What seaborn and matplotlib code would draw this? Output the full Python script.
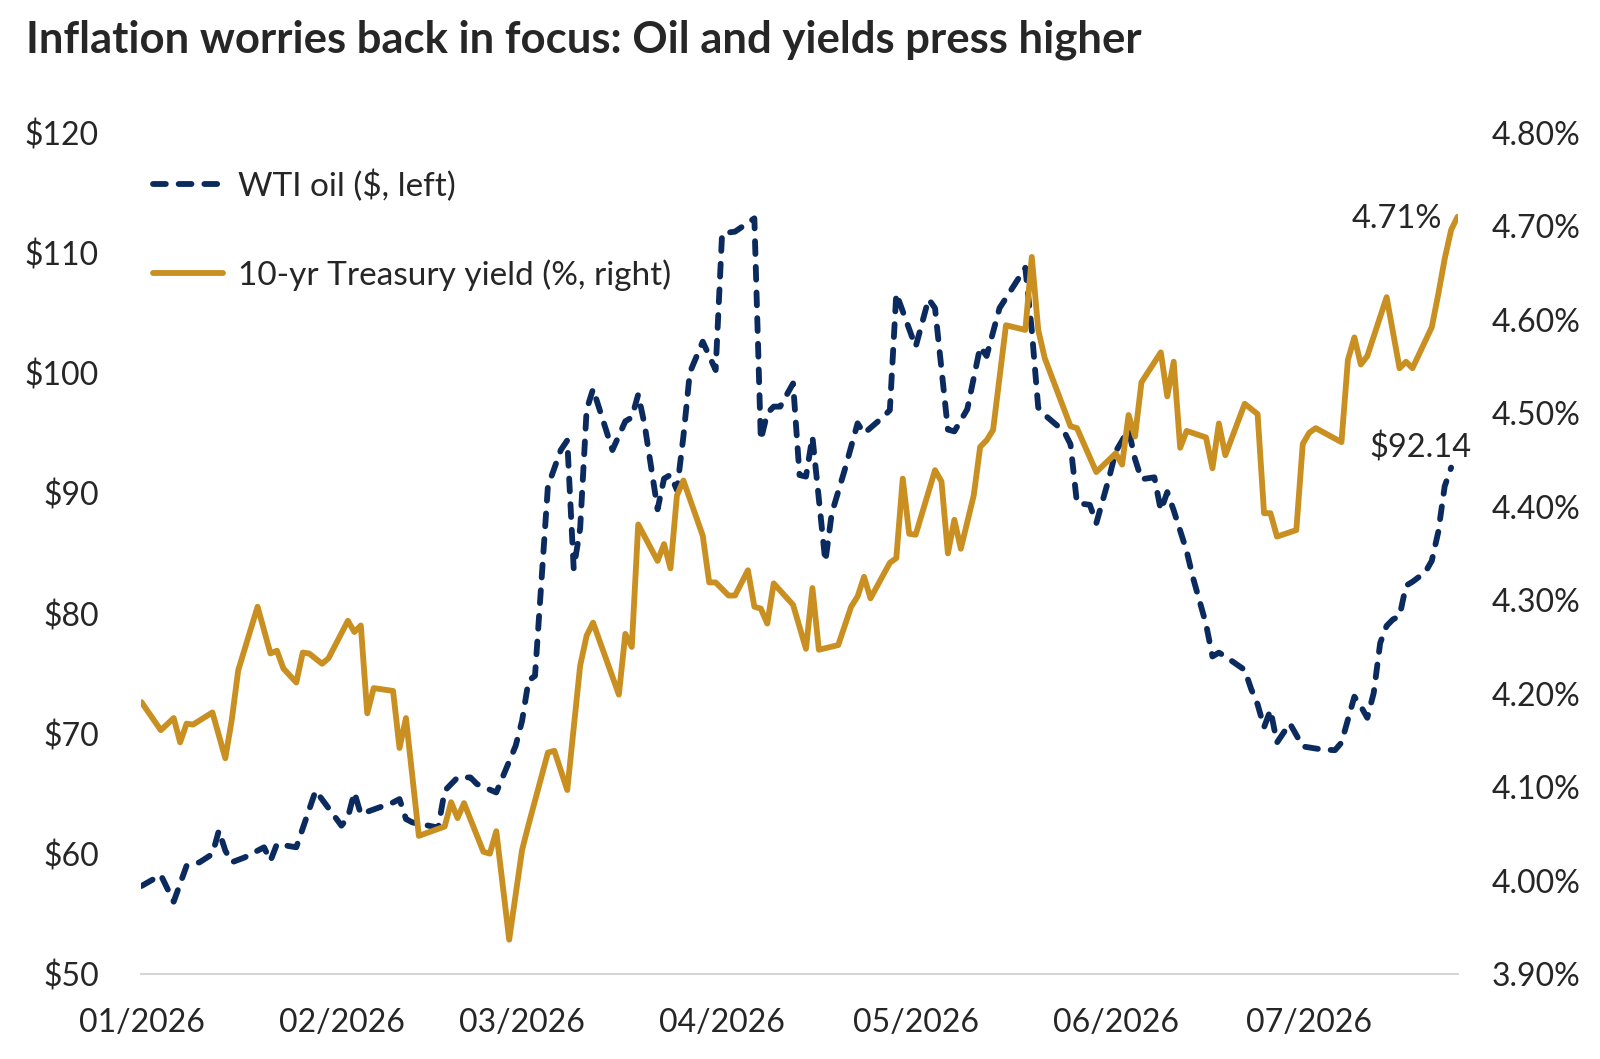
import matplotlib
matplotlib.use("Agg")
import matplotlib.pyplot as plt
import matplotlib.dates as mdates
from matplotlib.lines import Line2D
from matplotlib.ticker import FuncFormatter, MultipleLocator
import seaborn as sns
import pandas as pd

# ---------------- data ----------------
YEAR = "2026"
oil_dates = ["01-01", "01-04", "01-06", "01-08", "01-10", "01-12", "01-13", "01-14", "01-15", "01-17",
             "01-20", "01-21", "01-22", "01-25", "01-28", "02-01", "02-02", "02-03", "02-04", "02-09",
             "02-10", "02-11", "02-12", "02-16", "02-17", "02-19", "02-21", "02-22", "02-25", "02-28",
             "03-01", "03-02", "03-03", "03-05", "03-07", "03-08", "03-09", "03-10", "03-11", "03-12",
             "03-15", "03-17", "03-18", "03-19", "03-20", "03-22", "03-23", "03-24", "03-25", "03-26",
             "03-27", "03-29", "03-31", "04-01", "04-03", "04-06", "04-07", "04-08", "04-09", "04-10",
             "04-12", "04-13", "04-14", "04-15", "04-17", "04-18", "04-20", "04-22", "04-23", "04-26",
             "04-27", "04-28", "05-01", "05-03", "05-04", "05-06", "05-07", "05-09", "05-11", "05-12",
             "05-14", "05-18", "05-19", "05-20", "05-21", "05-24", "05-25", "05-26", "05-28", "05-29",
             "05-31", "06-01", "06-03", "06-04", "06-05", "06-07", "06-08", "06-09", "06-10", "06-12",
             "06-13", "06-14", "06-15", "06-16", "06-17", "06-18", "06-21", "06-22", "06-23", "06-24",
             "06-25", "06-26", "06-27", "06-28", "06-30", "07-03", "07-05", "07-06", "07-08", "07-09",
             "07-10", "07-11", "07-12", "07-13", "07-14", "07-15", "07-16", "07-17", "07-19", "07-20",
             "07-21", "07-22", "07-23"]
oil_values = [57.34, 58.26, 56.04, 59.03, 59.31, 60.00, 61.95, 60.29, 59.31, 59.72,
              60.56, 59.44, 60.83, 60.56, 65.27, 62.36, 63.05, 65.13, 63.32, 64.29,
              64.57, 62.91, 62.63, 62.20, 65.26, 66.37, 66.37, 65.82, 65.12, 69.00,
              71.08, 74.42, 74.82, 90.58, 93.60, 94.40, 83.73, 87.08, 96.94, 98.68,
              93.60, 95.99, 96.31, 98.22, 95.67, 88.67, 91.22, 91.54, 90.27, 94.72,
              100.05, 102.61, 100.25, 111.62, 111.76, 112.87, 94.43, 96.66, 97.21, 97.21,
              99.14, 91.52, 91.39, 94.71, 84.32, 88.34, 91.94, 95.82, 94.98, 96.37,
              96.92, 106.62, 102.18, 106.16, 105.40, 95.30, 95.15, 96.99, 102.18, 101.42,
              105.40, 108.76, 103.56, 97.13, 96.52, 95.15, 94.08, 89.19, 89.04, 87.51,
              91.33, 93.47, 95.30, 92.85, 91.17, 91.33, 88.58, 90.10, 88.58, 85.20,
              82.96, 81.04, 79.14, 76.43, 76.75, 76.43, 75.31, 73.73, 72.45, 70.54,
              71.98, 69.27, 70.06, 70.86, 68.95, 68.69, 68.64, 69.27, 73.09, 72.29,
              71.33, 73.40, 77.55, 78.98, 79.52, 79.78, 82.32, 82.64, 83.44, 84.39,
              86.78, 90.59, 92.14]

yield_dates = ["01-01", "01-04", "01-06", "01-07", "01-08", "01-09", "01-12", "01-14", "01-15", "01-16",
               "01-19", "01-21", "01-22", "01-23", "01-25", "01-26", "01-27", "01-29", "01-30", "02-02",
               "02-03", "02-04", "02-05", "02-06", "02-09", "02-10", "02-11", "02-13", "02-17", "02-18",
               "02-19", "02-20", "02-23", "02-24", "02-25", "02-27", "03-01", "03-02", "03-05", "03-06",
               "03-08", "03-10", "03-11", "03-12", "03-16", "03-17", "03-18", "03-19", "03-22", "03-23",
               "03-24", "03-25", "03-26", "03-29", "03-30", "03-31", "04-02", "04-03", "04-05", "04-06",
               "04-07", "04-08", "04-09", "04-12", "04-14", "04-15", "04-16", "04-19", "04-21", "04-22",
               "04-23", "04-24", "04-27", "04-28", "04-29", "04-30", "05-01", "05-04", "05-05", "05-06",
               "05-07", "05-08", "05-10", "05-11", "05-12", "05-13", "05-15", "05-18", "05-19", "05-20",
               "05-21", "05-25", "05-26", "05-29", "06-01", "06-02", "06-03", "06-04", "06-05", "06-08",
               "06-09", "06-10", "06-11", "06-12", "06-15", "06-16", "06-17", "06-18", "06-21", "06-23",
               "06-24", "06-25", "06-26", "06-29", "06-30", "07-01", "07-02", "07-06", "07-07", "07-08",
               "07-09", "07-10", "07-13", "07-15", "07-16", "07-17", "07-20", "07-21", "07-22", "07-23",
               "07-24"]
yield_values = [4.191, 4.161, 4.174, 4.148, 4.168, 4.167, 4.180, 4.131, 4.172, 4.225,
                4.293, 4.243, 4.246, 4.227, 4.212, 4.244, 4.243, 4.232, 4.238, 4.278,
                4.266, 4.273, 4.179, 4.206, 4.203, 4.142, 4.174, 4.048, 4.058, 4.084,
                4.067, 4.083, 4.031, 4.029, 4.053, 3.937, 4.033, 4.060, 4.137, 4.139,
                4.097, 4.230, 4.262, 4.276, 4.199, 4.264, 4.250, 4.381, 4.342, 4.360,
                4.334, 4.412, 4.428, 4.369, 4.319, 4.319, 4.305, 4.305, 4.332, 4.293,
                4.291, 4.275, 4.318, 4.295, 4.248, 4.313, 4.247, 4.252, 4.293, 4.304,
                4.325, 4.302, 4.340, 4.345, 4.430, 4.371, 4.370, 4.439, 4.427, 4.350,
                4.386, 4.355, 4.412, 4.464, 4.471, 4.482, 4.594, 4.589, 4.667, 4.589,
                4.559, 4.486, 4.484, 4.437, 4.457, 4.445, 4.498, 4.475, 4.533, 4.565,
                4.518, 4.555, 4.463, 4.481, 4.474, 4.441, 4.489, 4.455, 4.510, 4.499,
                4.393, 4.393, 4.368, 4.375, 4.467, 4.479, 4.484, 4.469, 4.557, 4.581,
                4.552, 4.561, 4.624, 4.548, 4.555, 4.548, 4.592, 4.627, 4.665, 4.696,
                4.710]

title = "Inflation worries back in focus: Oil and yields press higher"
oil_label = "WTI oil ($, left)"
yield_label = "10-yr Treasury yield (%, right)"
oil_end_label = "$92.14"
yield_end_label = "4.71%"
x_start, x_end = "2026-01-01", "2026-07-24"

# ---------------- style ----------------
NAVY = "#0B2B5E"
GOLD = "#C98F21"
GRID_GREY = "#D4D4D4"
LW = 4.2
DASH = (2.2, 2.2)

sns.set_style("white")
plt.rcParams["font.family"] = ["Lato", "DejaVu Sans"]
FS = 23

oil_df = pd.DataFrame({"date": pd.to_datetime([f"{YEAR}-{d}" for d in oil_dates]), "value": oil_values})
yld_df = pd.DataFrame({"date": pd.to_datetime([f"{YEAR}-{d}" for d in yield_dates]), "value": yield_values})

fig = plt.figure(figsize=(16, 10.59), dpi=100)
ax = fig.add_axes([0.0884, 0.0800, 0.8226, 0.7948])
ax2 = ax.twinx()

sns.lineplot(data=oil_df, x="date", y="value", ax=ax, color=NAVY, linewidth=LW,
             estimator=None, legend=False)
oil_line = ax.lines[-1]
oil_line.set_dashes(DASH)
oil_line.set_dash_capstyle("round")

sns.lineplot(data=yld_df, x="date", y="value", ax=ax2, color=GOLD, linewidth=LW,
             estimator=None, legend=False)

ax.set_xlim(pd.Timestamp(x_start), pd.Timestamp(x_end))
ax.set_ylim(50, 120)
ax2.set_ylim(3.90, 4.80)
ax.yaxis.set_major_locator(MultipleLocator(10))
ax2.yaxis.set_major_locator(MultipleLocator(0.1))
ax.yaxis.set_major_formatter(FuncFormatter(lambda v, p: f"${v:.0f}"))
ax2.yaxis.set_major_formatter(FuncFormatter(lambda v, p: f"{v:.2f}%"))
ax.xaxis.set_major_locator(mdates.MonthLocator())
ax.xaxis.set_major_formatter(mdates.DateFormatter("%m/%Y"))

for a in (ax, ax2):
    a.set_xlabel("")
    a.set_ylabel("")
    a.grid(False)
    for s in a.spines.values():
        s.set_visible(False)
    a.set_facecolor("none")

ax.spines["bottom"].set_visible(True)
ax.spines["bottom"].set_color(GRID_GREY)
ax.spines["bottom"].set_linewidth(1.4)

ax.tick_params(axis="x", length=10, width=1.2, color=GRID_GREY, labelsize=FS, pad=14, direction="out")
ax.tick_params(axis="y", length=0, labelsize=FS, pad=30.5)
ax2.tick_params(axis="y", length=0, labelsize=FS, pad=24.5)

# end labels
ax2.annotate(yield_end_label, xy=(yld_df["date"].iloc[-1], yld_df["value"].iloc[-1]),
             xytext=(-11, -1.5), textcoords="offset points", ha="right", va="center", fontsize=FS + 0.5)
ax.annotate(oil_end_label, xy=(oil_df["date"].iloc[-1], oil_df["value"].iloc[-1]),
            xytext=(-22, 7), textcoords="offset points", ha="center", va="baseline", fontsize=FS + 0.5)

# legend
handles = [Line2D([], [], color=NAVY, linewidth=LW, dashes=DASH, dash_capstyle="round"),
           Line2D([], [], color=GOLD, linewidth=LW)]
fig.legend(handles, [oil_label, yield_label], loc="upper left", bbox_to_anchor=(153 / 1600, 0.840),
           frameon=False, fontsize=24, handlelength=2.1, handletextpad=0.45, labelspacing=1.72,
           borderpad=0, borderaxespad=0)

fig.text(25.5 / 1600, 1 - 53 / 1059, title, fontsize=31.4, fontweight="bold", va="baseline", ha="left")

fig.savefig("out.png", dpi=100, facecolor="white")
